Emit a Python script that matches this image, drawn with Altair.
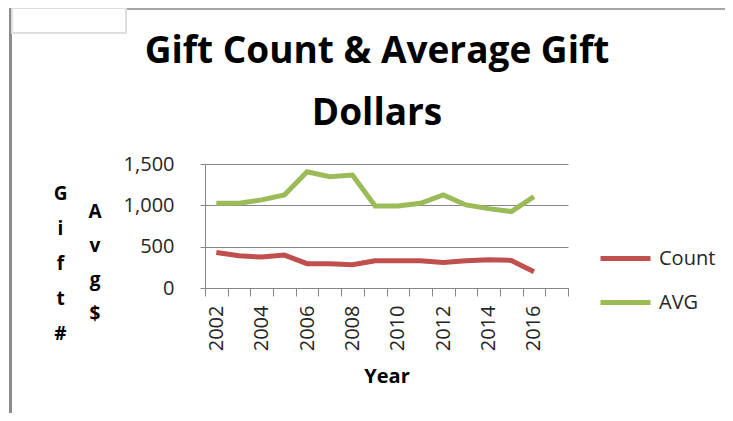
import altair as alt
import pandas as pd

years = [2002, 2003, 2004, 2005, 2006, 2007, 2008, 2009, 2010, 2011, 2012, 2013, 2014, 2015, 2016]
axis_years = years + [2017]
count = [430, 390, 374, 398, 294, 294, 281, 330, 330, 330, 310, 330, 342, 334, 197]
avg = [1025, 1025, 1066, 1126, 1407, 1347, 1367, 993, 993, 1025, 1126, 1005, 960, 925, 1106]
series = ["Count", "AVG"]
colors = ["#C0504D", "#9BBB59"]
y_ticks = [0, 500, 1000, 1500]
title_lines = ["Gift Count & Average Gift", "Dollars"]

df = pd.DataFrame({"Year": years, "Count": count, "AVG": avg})

FONT = "Open Sans"
TXT = "#262626"
FS = 20

lines = alt.Chart(df).transform_fold(series, as_=["Series", "Value"]).mark_line(
    strokeWidth=5
).encode(
    x=alt.X("Year:O", scale=alt.Scale(type="band", domain=axis_years, paddingInner=0, paddingOuter=0),
            axis=alt.Axis(title="Year", labelAngle=-90, tickBand="extent", tickSize=8,
                          labelPadding=9, labelFontSize=FS, labelFont=FONT, labelColor=TXT,
                          labelExpr="datum.value % 2 == 0 ? datum.label : ''",
                          titleFont=FONT, titleFontSize=20, titleFontWeight="bold", titleColor="#000",
                          titlePadding=16, domainColor="#868686", tickColor="#868686", grid=False)),
    y=alt.Y("Value:Q", scale=alt.Scale(domain=[0, 1500], nice=False),
            axis=alt.Axis(values=y_ticks, format=",.0f", tickSize=5, labelPadding=26,
                          labelFontSize=FS, labelFont=FONT, labelColor=TXT,
                          title=["G", "i", "f", "t", "#"], titleAngle=0, titleX=-145, titleY=29,
                          titleBaseline="middle", titleAlign="center", titleLineHeight=35,
                          titleFont=FONT, titleFontSize=19, titleFontWeight="bold", titleColor="#000",
                          domainColor="#868686", tickColor="#868686", grid=True, gridColor="#868686")),
    color=alt.Color("Series:N", scale=alt.Scale(domain=series, range=colors),
                    legend=alt.Legend(title=None, orient="none", legendX=408, legendY=82,
                                      symbolType="M-2.5,0H2.5", symbolSize=400, symbolStrokeWidth=5,
                                      labelOffset=21, labelFont=FONT, labelFontSize=FS, labelColor=TXT,
                                      rowPadding=21)),
)

one = pd.DataFrame({"a": [0]})

avg_title = alt.Chart(one).mark_text(
    font=FONT, fontSize=19, fontWeight="bold", color="#000", baseline="middle", align="center", lineHeight=34
).encode(x=alt.value(-110), y=alt.value(48), text=alt.value(["A", "v", "g", "$"]))

main_title = alt.Chart(one).mark_text(
    font=FONT, fontSize=37, fontWeight="bold", color="#000", baseline="top", align="center", lineHeight=62
).encode(x=alt.value(172), y=alt.value(-130), text=alt.value(title_lines))

left_border = alt.Chart(one).mark_rule(color="#8c8c8c", strokeWidth=3).encode(
    x=alt.value(-194.5), y=alt.value(-156), y2=alt.value(260))
top_border = alt.Chart(one).mark_rule(color="#a6a6a6", strokeWidth=2).encode(
    x=alt.value(-79), x2=alt.value(520), y=alt.value(-155))
corner_box = alt.Chart(one).mark_rect(fill="white", stroke="#dedede", strokeWidth=2).encode(
    x=alt.value(-193), x2=alt.value(-79), y=alt.value(-156), y2=alt.value(-131))

chart = alt.layer(left_border, top_border, corner_box, lines, avg_title, main_title).properties(
    width=363, height=124,
    autosize=alt.AutoSizeParams(type="none"),
    padding={"left": 197, "top": 156, "right": 157, "bottom": 125},
).configure_view(stroke=None)

chart.save("out.html", embed_options={"renderer": "svg", "actions": False})
